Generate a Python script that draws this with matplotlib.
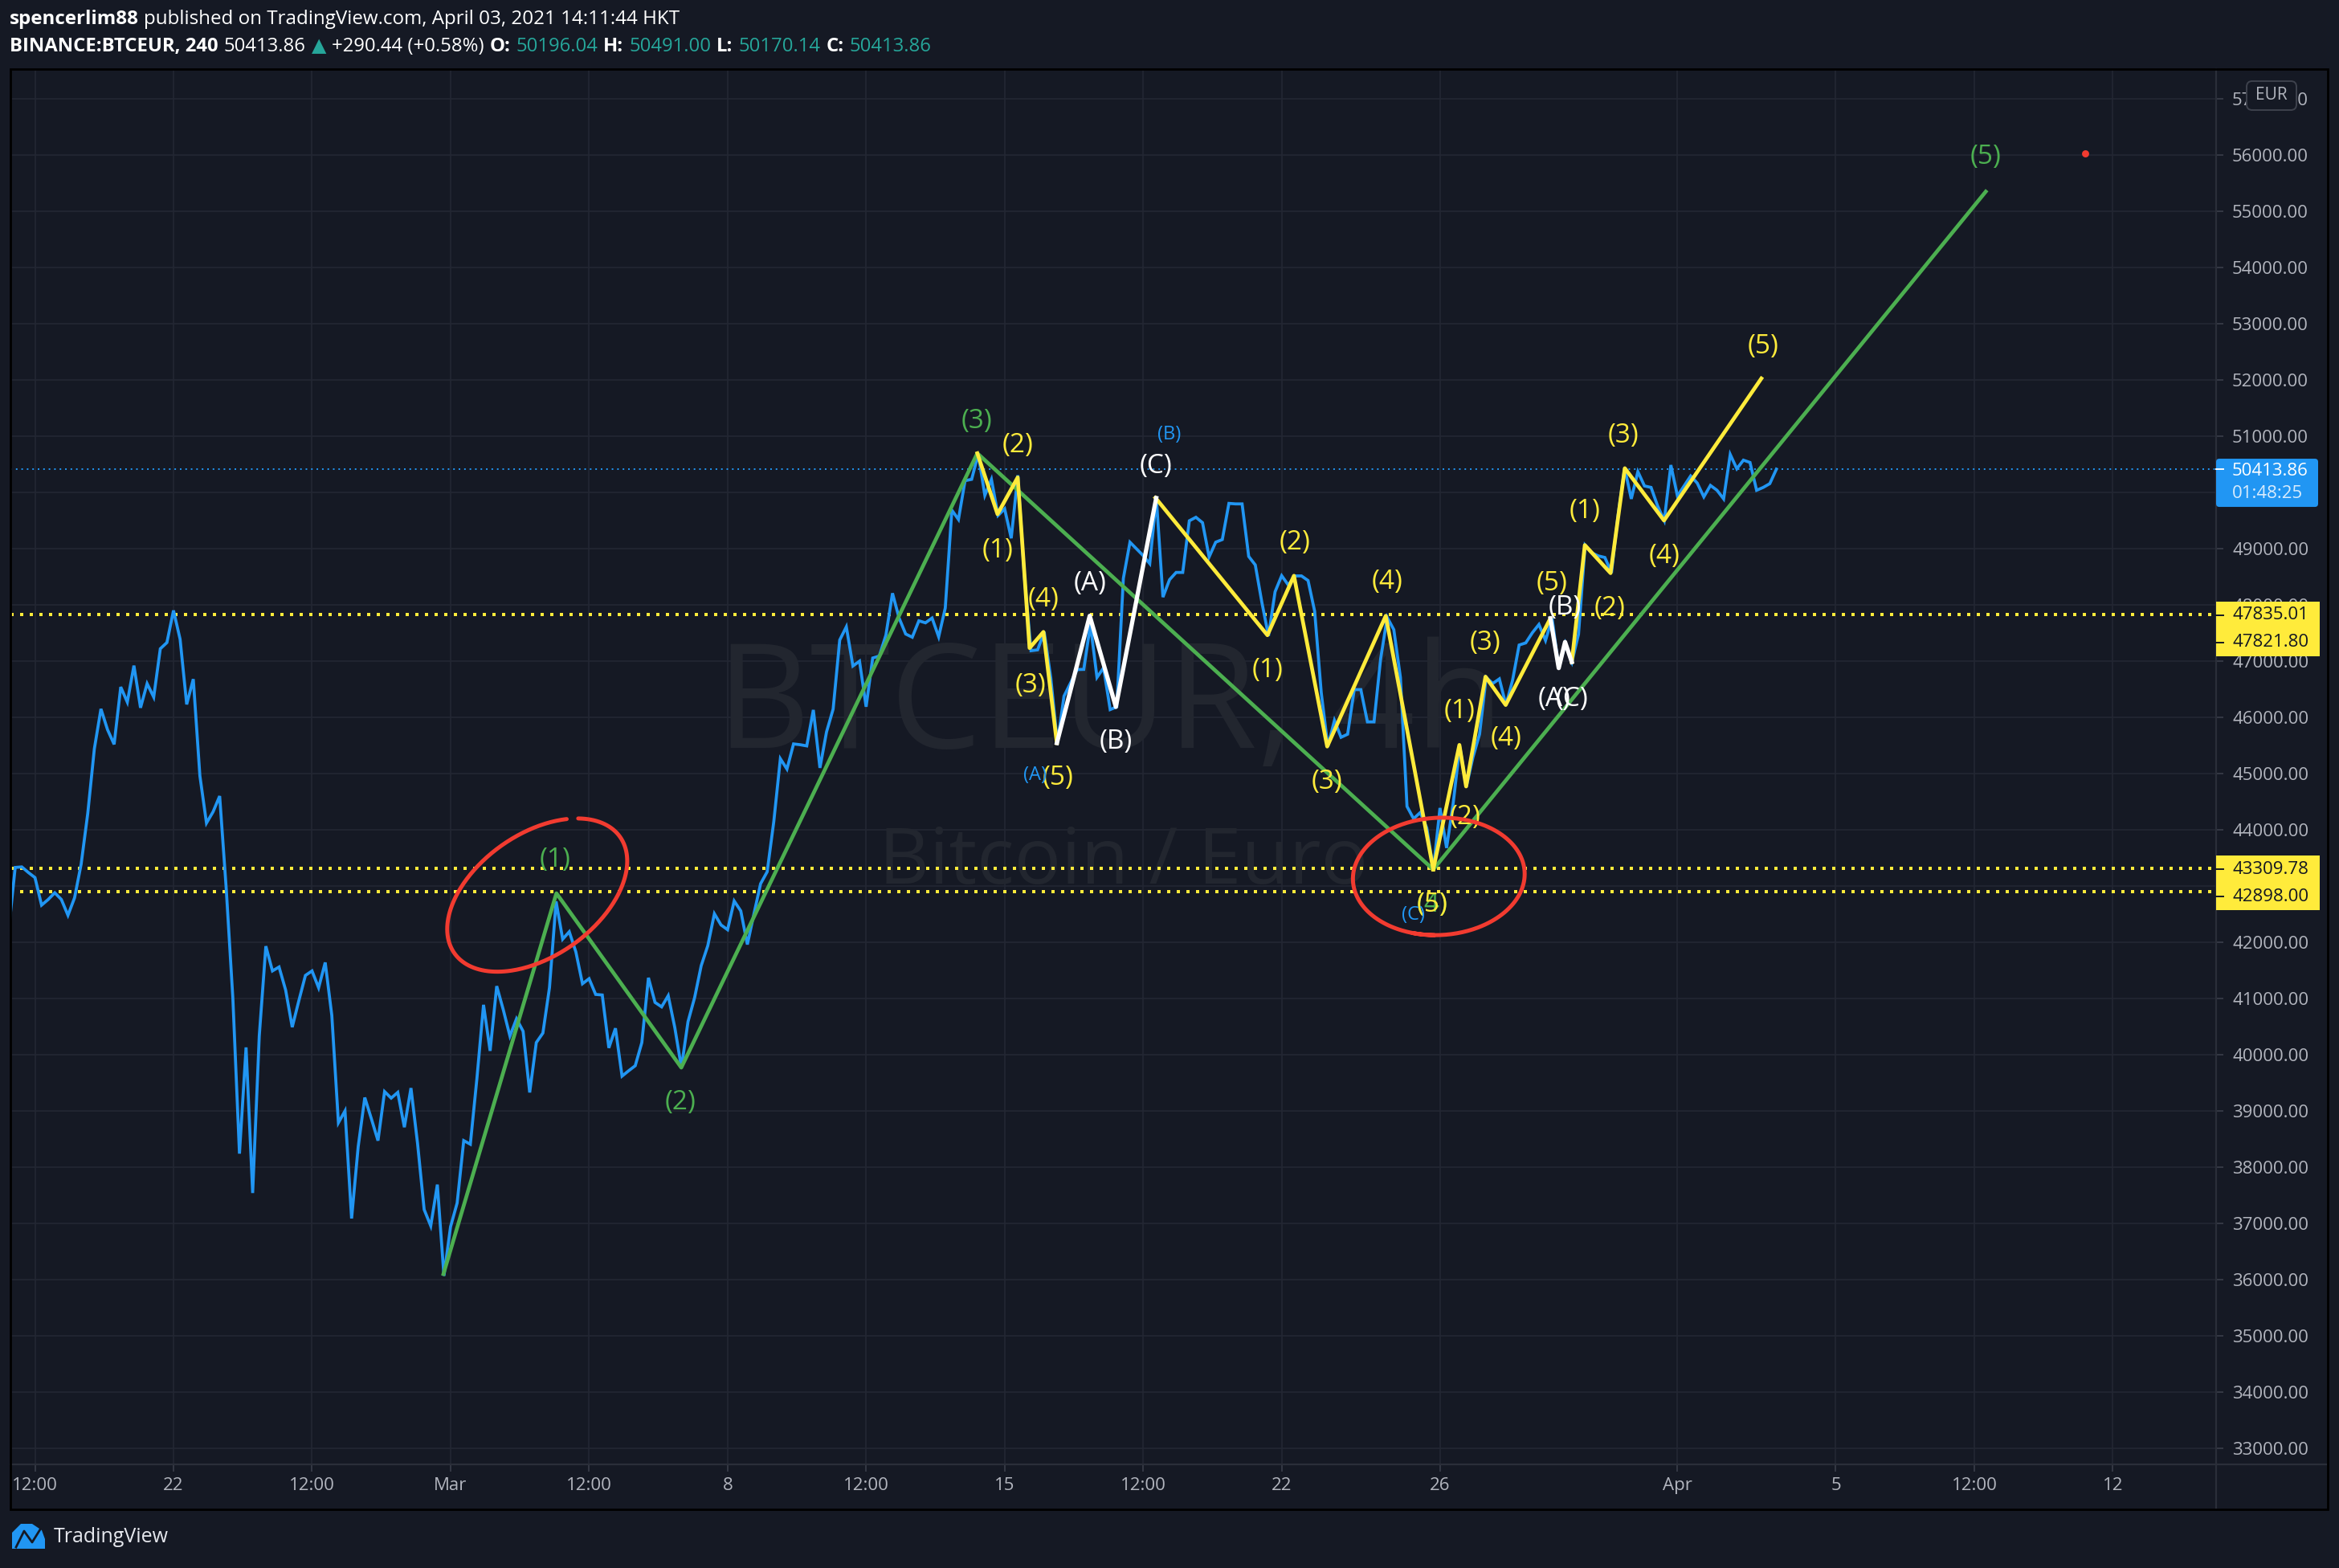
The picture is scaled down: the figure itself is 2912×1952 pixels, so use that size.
import numpy as np
import matplotlib
matplotlib.use("Agg")
import matplotlib.pyplot as plt
from matplotlib import transforms
from matplotlib.lines import Line2D
from matplotlib.patches import Rectangle, FancyBboxPatch, Polygon

plt.rcParams['font.family'] = ['Open Sans', 'DejaVu Sans']

W, H, DPI = 2912, 1952, 200

BG = '#151924'
GRID = '#232733'
TICK = '#3a3e4a'
TXT = '#b2b5be'
BLUE = '#2196f3'
GREEN = '#4caf50'
YELLOW = '#ffeb3b'
RED = '#f23b30'
TEAL = '#26a69a'

# 4h closes of BINANCE:BTCEUR, x = days from Feb 22 00:00 (HKT), first bar Feb 17 20:00
first_bar = -25 / 6.0
closes = [
    42200, 43330, 43340, 43240, 43150, 42660, 42760, 42880, 42760, 42480,
    42790, 43390, 44290, 45440, 46150, 45780, 45520, 46540, 46270, 46920,
    46170, 46600, 46360, 47220, 47330, 47900, 47390, 46230, 46680, 44960,
    44120, 44320, 44600, 42940, 41000, 38240, 40130, 37540, 40330, 41930,
    41490, 41560, 41150, 40490, 40960, 41410, 41490, 41190, 41640, 40700,
    38790, 39000, 37087, 38366, 39238, 38860, 38472, 39344, 39228, 39330,
    38710, 39407, 38420, 37246, 36955, 37690, 36067, 36940, 37362, 38472,
    38408, 39580, 40887, 40068, 41220, 40797, 40332, 40639, 40417, 39328,
    40216, 40385, 41194, 42726, 42055, 42187, 41828, 41262, 41352, 41072,
    41062, 40121, 40470, 39619, 39714, 39804, 40216, 41368, 40930,
    40851, 41050, 40481, 39771, 40588, 41015, 41583, 41939, 42507, 42308,
    42223, 42734, 42557, 41960, 42507, 43040, 43253, 44142, 45264, 45080,
    45527, 45513, 45492, 46132, 45101, 45741, 46146, 47375, 47610, 46913,
    46999, 46188, 47055, 47091, 47461, 48207, 47766, 47482, 47425, 47717,
    47681, 47766, 47432, 47944,
    49685, 49519, 50209, 50233, 50685, 49947, 50233, 49590, 49709, 49185,
    50305, 48500, 47185, 47200, 47519, 46700, 45542, 46377, 46615, 46850,
    46853, 47650, 46710, 46880, 46138, 46186, 48472, 49115, 48996, 48877,
    48734, 49900, 48138, 48448, 48577, 48577, 49496, 49558, 49462, 48853,
    49115, 49162, 49805, 49796, 49796, 48862, 48710, 48043, 47448, 48234,
    48519, 48353, 48515,
    48515, 48433, 47887, 46438, 45481, 45946, 45645, 45700, 46493, 46493,
    45919, 45919, 47039, 47777, 47559, 46711, 44415, 44197, 44306, 44033,
    43295, 44388, 43677, 44470, 45481, 44770, 45290, 45700, 46711, 46602,
    46684, 46219, 46657, 47286, 47324, 47504, 47652, 47367, 47761, 46876,
    47313, 46985, 47477, 49062, 48926, 48871, 48843, 48570, 49600,
    50431, 49885, 50370, 50115, 50089, 49758, 49502, 50487, 49936, 50115,
    50293, 50166, 49921, 50125, 50038, 49885, 50676, 50421, 50574, 50533,
    50038, 50089, 50156, 50413.86,
]
days = first_bar + np.arange(len(closes)) / 6.0
last_price = 50413.86

time_ticks = [-3.5, 0, 3.5, 7, 10.5, 14, 17.5, 21, 24.5, 28, 32, 38, 42, 45.5, 49]
time_labels = ['12:00', '22', '12:00', 'Mar', '12:00', '8', '12:00', '15', '12:00',
               '22', '26', 'Apr', '5', '12:00', '12']
price_ticks = list(range(33000, 58000, 1000))

levels = [47835.01, 47821.80, 43309.78, 42898.00]

# Elliott wave drawings (day, price)
green_days = [6.82, 9.675, 12.83, 20.31, 31.83, 45.79]
green_prices = [36100, 42871, 39771, 50696, 43294, 55350]

yellow_paths = [
    ([20.31, 20.82, 21.33, 21.63, 21.98, 22.32], [50696, 49614, 50267, 47233, 47519, 45543]),
    ([24.81, 27.64, 28.31, 29.15, 30.63, 31.83], [49905, 47461, 48518, 45481, 47805, 43294]),
    ([31.83, 32.49, 32.66, 33.15, 33.66, 34.79], [43294, 45509, 44771, 46723, 46220, 47761]),
    ([35.33, 35.66, 36.31, 36.67, 37.66, 40.12], [46984, 49063, 48565, 50430, 49501, 52027]),
]
white_paths = [
    ([22.32, 23.15, 23.81, 24.83], [45543, 47805, 46186, 49900]),
    ([34.79, 35.0, 35.16, 35.33], [47761, 46876, 47340, 46984]),
]

green_labels = [('(1)', 9.64, 43471), ('(2)', 12.8, 39157), ('(3)', 20.3, 51271),
                ('(4)', 31.8, 42666), ('(5)', 45.79, 55970)]
yellow_labels = [
    ('(2)', 21.33, 50829), ('(1)', 20.83, 48971), ('(4)', 21.98, 48090),
    ('(3)', 21.66, 46567), ('(5)', 22.34, 44924),
    ('(2)', 28.33, 49114), ('(1)', 27.65, 46829), ('(3)', 29.15, 44853),
    ('(4)', 30.66, 48406), ('(5)', 31.8, 42666),
    ('(1)', 32.49, 46110), ('(2)', 32.64, 44224), ('(3)', 33.15, 47324),
    ('(4)', 33.67, 45619), ('(5)', 34.82, 48379),
    ('(1)', 35.66, 49664), ('(2)', 36.28, 47941), ('(3)', 36.64, 51007),
    ('(4)', 37.66, 48864), ('(5)', 40.16, 52589),
]
white_labels = [('(A)', 23.16, 48376), ('(B)', 23.81, 45567), ('(C)', 24.83, 50471),
                ('(B)', 35.16, 47957), ('(A)', 34.89, 46317), ('(C)', 35.34, 46317)]
blue_labels = [('(A)', 21.76, 44971), ('(B)', 25.15, 51033), ('(C)', 31.32, 42486)]

# hand drawn red rings: centre (day, price), semi axes px, tilt deg, arc deg
rings = [(9.19, 42839, 126, 76, 35, -40, 312), (31.97, 43171, 107, 73, 3, 95, 470)]
red_dot = (48.31, 56029)

fig = plt.figure(figsize=(W / DPI, H / DPI), dpi=DPI, facecolor=BG)
ax = fig.add_axes([13 / W, 1 - 1823 / H, 2746 / W, 1737 / H])
ax.set_facecolor(BG)
ax.set_xlim(-4.12, 51.61)
ax.set_ylim(32714, 57529)
for s in ax.spines.values():
    s.set_visible(False)
ax.set_xticks(time_ticks)
ax.set_xticklabels(time_labels)
ax.yaxis.tick_right()
ax.set_yticks(price_ticks)
ax.set_yticklabels([f'{p:.2f}' for p in price_ticks])
ax.tick_params(colors=TICK, labelcolor=TXT, labelsize=8, length=3.2, width=0.6)
ax.tick_params(axis='y', pad=4)
ax.tick_params(axis='x', pad=2.5)
ax.grid(True, color=GRID, lw=0.6)
ax.set_axisbelow(True)

# watermark
ax.text(0.4985, 0.5135, 'BTCEUR, 4h', transform=ax.transAxes, ha='center', va='baseline',
        fontsize=65, color='#22262f', zorder=0.6)
ax.text(0.5047, 0.4162, 'Bitcoin / Euro', transform=ax.transAxes, ha='center', va='baseline',
        fontsize=35, color='#22262f', zorder=0.6)

for v in levels:
    ax.axhline(v, color=YELLOW, lw=1.44, ls=(0, (1, 2)), dash_capstyle='butt', zorder=2)
ax.axhline(last_price, color=BLUE, lw=0.7, ls=(0, (1, 2.5)), zorder=2)

ax.plot(days, closes, color=BLUE, lw=1.35, zorder=3, solid_joinstyle='miter')
ax.plot(green_days, green_prices, color=GREEN, lw=1.7, zorder=4)
for xs, ys in yellow_paths:
    ax.plot(xs, ys, color=YELLOW, lw=1.7, zorder=5)
for xs, ys in white_paths:
    ax.plot(xs, ys, color='white', lw=1.9, zorder=6)

for s, x, y in green_labels:
    ax.text(x, y, s, color=GREEN, fontsize=12, ha='center', va='center', zorder=8)
for s, x, y in yellow_labels:
    ax.text(x, y, s, color=YELLOW, fontsize=12, ha='center', va='center', zorder=8)
for s, x, y in white_labels:
    ax.text(x, y, s, color='white', fontsize=12, ha='center', va='center', zorder=8)
for s, x, y in blue_labels:
    ax.text(x, y, s, color=BLUE, fontsize=8.5, ha='center', va='center', zorder=8)

ident = transforms.IdentityTransform()


def to_img(x, y):
    dx, dy = ax.transData.transform((x, y))
    return dx, H - dy


for cx, cy, a, b, ang, t0, t1 in rings:
    px0, py0 = to_img(cx, cy)
    t = np.radians(np.linspace(t0, t1, 300))
    ca, sa = np.cos(np.radians(ang)), np.sin(np.radians(ang))
    u, v = a * np.cos(t), b * np.sin(t)
    px = px0 + u * ca + v * sa
    py = py0 - u * sa + v * ca
    fig.add_artist(Line2D(px, H - py, color=RED, lw=1.8, transform=ident, zorder=20,
                          solid_capstyle='round'))
ax.plot(*red_dot, 'o', color=RED, ms=2.2, zorder=9)


def ptext(x, y, s, **kw):
    return fig.text(x, H - y, s, transform=ident, **kw)


def prect(x, y, w, h, **kw):
    fig.add_artist(Rectangle((x, H - y - h), w, h, transform=ident, **kw))


def pline(xs, ys, **kw):
    fig.add_artist(Line2D(xs, [H - y for y in ys], transform=ident, **kw))


# frame and separators
pline([2759, 2759], [86, 1879], color='#2a2e39', lw=0.8, zorder=10)
pline([13, 2898], [1823, 1823], color='#2a2e39', lw=0.8, zorder=10)
prect(13, 86, 2885, 1793, fill=False, edgecolor='black', lw=1.0, zorder=11)

# level labels on price scale
for hi, lo in [(levels[0], levels[1]), (levels[2], levels[3])]:
    yc = to_img(0, hi)[1] + 1
    prect(2759, yc - 17, 129, 68, facecolor=YELLOW, edgecolor='none', zorder=12)
    for i, v in enumerate((hi, lo)):
        ptext(2779, yc + 34 * i, f'{v:.2f}', color='#131722', fontsize=8, ha='left',
              va='center', zorder=13)
        pline([2759, 2768], [yc + 34 * i] * 2, color='#131722', lw=0.7, zorder=13)

# last price label
yc = to_img(0, last_price)[1]
fig.add_artist(FancyBboxPatch((2759, H - yc - 47), 127, 60, boxstyle='round,pad=0,rounding_size=4',
                              transform=ident, facecolor=BLUE, edgecolor='none', zorder=12))
ptext(2779, yc + 2, f'{last_price:.2f}', color='white', fontsize=8, ha='left', va='center', zorder=13)
ptext(2779, yc + 30, '01:48:25', color='#d9ecfd', fontsize=8, ha='left', va='center', zorder=13)
pline([2759, 2768], [yc, yc], color='white', lw=0.7, zorder=13)

# currency badge
fig.add_artist(FancyBboxPatch((2797, H - 137), 62, 36, boxstyle='round,pad=0,rounding_size=7',
                              transform=ident, facecolor=BG, edgecolor='#3e424d', lw=0.7, zorder=12))
ptext(2828, 119, 'EUR', color=TXT, fontsize=7.5, ha='center', va='center', zorder=13)

# header, pieces laid out one after another
renderer = fig.canvas.get_renderer()


def text_run(x, y, pieces, size, gap=6):
    for s, c, w in pieces:
        t = ptext(x, y, s, color=c, fontsize=size, fontweight=w, va='center')
        x = t.get_window_extent(renderer).x1 + gap


text_run(12, 24, [('spencerlim88', 'white', 'bold'),
                  ('published on TradingView.com, April 03, 2021 14:11:44 HKT', 'white', 'normal')],
         8.7)
text_run(12, 58, [('BINANCE:BTCEUR, 240', 'white', 'bold'), ('50413.86', 'white', 'normal'),
                  ('\u25b2', TEAL, 'normal'), ('+290.44 (+0.58%)', 'white', 'normal'),
                  ('O:', 'white', 'bold'), ('50196.04', TEAL, 'normal'),
                  ('H:', 'white', 'bold'), ('50491.00', TEAL, 'normal'),
                  ('L:', 'white', 'bold'), ('50170.14', TEAL, 'normal'),
                  ('C:', 'white', 'bold'), ('50413.86', TEAL, 'normal')], 8.6, gap=7)

# footer logo
fig.add_artist(Polygon([(15, H - 1928), (15, H - 1908), (26, H - 1897), (40, H - 1897),
                        (52, H - 1905), (56, H - 1916), (56, H - 1928)], closed=True,
                       transform=ident, facecolor=BLUE, edgecolor='none'))
pline([20, 30, 40, 50], [1926, 1906, 1920, 1904], color=BG, lw=1.0)
ptext(67, 1913, 'TradingView', color='#e6e8ee', fontsize=9, va='center')

fig.savefig('out.png', dpi=DPI, facecolor=BG)
